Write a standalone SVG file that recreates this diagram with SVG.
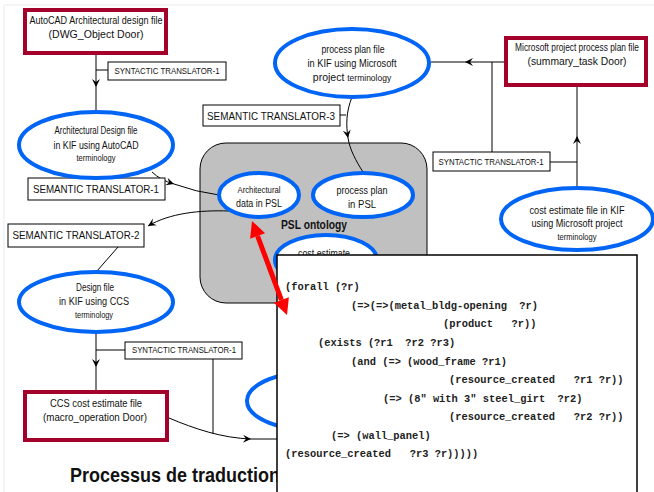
<svg xmlns="http://www.w3.org/2000/svg" width="654" height="492" viewBox="0 0 654 492">
  <defs>
    <marker id="stealth" viewBox="-9 -5 10 10" refX="0" refY="0" markerWidth="10" markerHeight="10" markerUnits="userSpaceOnUse" orient="auto">
      <path d="M-8,-4 L0,0 L-8,4 L-5,0 Z" fill="#000"/>
    </marker>
    <style>
      .frame { fill: none; stroke: #ebebeb; stroke-width: 1; }
      .file { fill: #fff; stroke: #a3002b; stroke-width: 4; }
      .kif { fill: #fff; stroke: #0064f5; stroke-width: 4; }
      .tag { fill: #fff; stroke: #000; stroke-width: 1; }
      .wire { fill: none; stroke: #000; stroke-width: 1; }
      .t { font-family: "Liberation Sans Narrow", "Liberation Sans", Arial, sans-serif; fill: #111; text-anchor: middle; }
      .code { font-family: "Liberation Mono", "Courier New", monospace; font-weight: bold; font-size: 10.4px; fill: #222; white-space: pre; }
      .bold { font-family: "Liberation Sans", Arial, sans-serif; font-weight: bold; fill: #111; }
    </style>
  </defs>

  <rect width="654" height="492" fill="#fff"/>
  <path class="frame" d="M4,492 L4,5 L654,5"/>

  <!-- PSL ontology container -->
  <g id="psl-ontology">
    <rect x="200" y="143" width="227" height="160" rx="26" ry="26" fill="#c0c0c0" stroke="#000" stroke-width="1"/>
    <text class="bold" x="314" y="229" font-size="12.5" text-anchor="middle" textLength="66" lengthAdjust="spacingAndGlyphs">PSL ontology</text>
  </g>

  <!-- connectors -->
  <g id="connectors">
    <!-- AutoCAD file to KIF design file -->
    <path class="wire" d="M96,55 L96,87" marker-end="url(#stealth)"/>
    <path class="wire" d="M96,87 L96,112 M96,70 L108,70"/>
    <!-- KIF design file to PSL architectural data -->
    <path class="wire" d="M152,172 Q160,180 174,184 Q196,192 219,195" marker-mid="url(#stealth)"/>
    <!-- PSL architectural data to CCS design file -->
    <path class="wire" d="M229,211 C200,210 170,213 148,226" marker-end="url(#stealth)"/>
    <path class="wire" d="M118,247 L97,271"/>
    <!-- CCS design file to CCS cost estimate -->
    <path class="wire" d="M96,332 L96,367" marker-end="url(#stealth)"/>
    <path class="wire" d="M96,367 L96,390 M96,350 L125,350"/>
    <!-- CCS cost estimate onward -->
    <path class="wire" d="M169,418 C195,429 222,438 251,439" marker-end="url(#stealth)"/>
    <path class="wire" d="M251,439 L280,439 M213,359 L213,434"/>
    <!-- process plan file to process plan in PSL -->
    <path class="wire" d="M352,97 C346,112 346,125 348,138 C350,150 356,161 363,172" marker-mid="url(#stealth)"/>
    <path class="wire" d="M340,115 L346,115"/>
    <!-- Microsoft project file to process plan file -->
    <path class="wire" d="M504,62 L465,62" marker-end="url(#stealth)"/>
    <path class="wire" d="M465,62 L431,62 M492,62 L492,152 M550,162 L577,162"/>
    <!-- cost estimate KIF to Microsoft project file -->
    <path class="wire" d="M577,188 L577,136" marker-end="url(#stealth)"/>
    <path class="wire" d="M577,136 L577,87"/>
  </g>

  <!-- file nodes -->
  <g id="autocad-file">
    <rect class="file" x="25" y="10" width="141" height="43"/>
    <text class="t" x="96" y="24" font-size="11" textLength="133" lengthAdjust="spacingAndGlyphs">AutoCAD Architectural  design  file</text>
    <text class="t" x="96" y="38" font-size="11" textLength="95" lengthAdjust="spacingAndGlyphs">(DWG_Object     Door)</text>
  </g>

  <g id="msproject-file">
    <rect class="file" x="506" y="38" width="140" height="47"/>
    <text class="t" transform="translate(577,51) scale(0.76,1)" x="0" y="0" font-size="11">Microsoft project process plan file</text>
    <text class="t" x="577" y="65" font-size="11" textLength="99" lengthAdjust="spacingAndGlyphs">(summary_task      Door)</text>
  </g>

  <g id="ccs-file">
    <rect class="file" x="25" y="392" width="142" height="48"/>
    <text class="t" x="96" y="407" font-size="11" textLength="92" lengthAdjust="spacingAndGlyphs">CCS cost estimate  file</text>
    <text class="t" x="95" y="421" font-size="11" textLength="104" lengthAdjust="spacingAndGlyphs">(macro_operation    Door)</text>
  </g>

  <!-- translator labels -->
  <g id="syntactic-1-top">
    <rect class="tag" x="108" y="62" width="118" height="18"/>
    <text class="t" x="167" y="74" font-size="8.5" textLength="105" lengthAdjust="spacingAndGlyphs">SYNTACTIC TRANSLATOR-1</text>
  </g>
  <g id="semantic-1">
    <rect class="tag" x="28" y="178" width="137" height="22"/>
    <text class="t" x="96" y="193" font-size="11" textLength="126" lengthAdjust="spacingAndGlyphs">SEMANTIC  TRANSLATOR-1</text>
  </g>
  <g id="semantic-2">
    <rect class="tag" x="8" y="224" width="136" height="23"/>
    <text class="t" x="76" y="239" font-size="11" textLength="127" lengthAdjust="spacingAndGlyphs">SEMANTIC  TRANSLATOR-2</text>
  </g>
  <g id="syntactic-1-bottom">
    <rect class="tag" x="125" y="342" width="117" height="17"/>
    <text class="t" x="184" y="353" font-size="8.5" textLength="104" lengthAdjust="spacingAndGlyphs">SYNTACTIC TRANSLATOR-1</text>
  </g>
  <g id="semantic-3">
    <rect class="tag" x="203" y="105" width="137" height="21"/>
    <text class="t" x="271" y="120" font-size="11" textLength="128" lengthAdjust="spacingAndGlyphs">SEMANTIC  TRANSLATOR-3</text>
  </g>
  <g id="syntactic-1-right">
    <rect class="tag" x="433" y="152" width="117" height="19"/>
    <text class="t" x="491" y="165" font-size="8.5" textLength="105" lengthAdjust="spacingAndGlyphs">SYNTACTIC TRANSLATOR-1</text>
  </g>

  <!-- KIF ellipses -->
  <g id="kif-autocad">
    <ellipse class="kif" cx="96" cy="145" rx="77" ry="33"/>
    <text class="t" x="96" y="134" font-size="10" textLength="83" lengthAdjust="spacingAndGlyphs">Architectural Design  file</text>
    <text class="t" x="96" y="149" font-size="10" textLength="85" lengthAdjust="spacingAndGlyphs">in KIF using AutoCAD</text>
    <text class="t" x="96" y="161" font-size="9" textLength="39" lengthAdjust="spacingAndGlyphs">terminology</text>
  </g>

  <g id="kif-ccs">
    <ellipse class="kif" cx="96" cy="302" rx="77" ry="30"/>
    <text class="t" x="95" y="291" font-size="10" textLength="38" lengthAdjust="spacingAndGlyphs">Design  file</text>
    <text class="t" x="94" y="305" font-size="10" textLength="70" lengthAdjust="spacingAndGlyphs">in KIF using CCS</text>
    <text class="t" x="94" y="318" font-size="9" textLength="38" lengthAdjust="spacingAndGlyphs">terminology</text>
  </g>

  <g id="kif-msproject-plan">
    <ellipse class="kif" cx="352" cy="63" rx="77" ry="34"/>
    <text class="t" x="353" y="53" font-size="10.5" textLength="63" lengthAdjust="spacingAndGlyphs">process plan file</text>
    <text class="t" x="352" y="67" font-size="10.5" textLength="89" lengthAdjust="spacingAndGlyphs">in KIF using Microsoft</text>
    <text class="t" x="352" y="81" font-size="10.5"><tspan>project </tspan><tspan font-size="8.5">terminology</tspan></text>
  </g>

  <g id="kif-msproject-cost">
    <ellipse class="kif" cx="577" cy="219" rx="76" ry="31"/>
    <text class="t" x="577" y="214" font-size="10.5" textLength="95" lengthAdjust="spacingAndGlyphs">cost estimate   file in KIF</text>
    <text class="t" x="577" y="227" font-size="10.5" textLength="91" lengthAdjust="spacingAndGlyphs">using Microsoft project</text>
    <text class="t" x="577" y="240" font-size="8.5" textLength="39" lengthAdjust="spacingAndGlyphs">terminology</text>
  </g>

  <!-- PSL ellipses -->
  <g id="psl-architectural">
    <ellipse class="kif" cx="259" cy="195" rx="40" ry="22"/>
    <text class="t" x="259" y="193" font-size="9.5" textLength="43" lengthAdjust="spacingAndGlyphs">Architectural</text>
    <text class="t" x="259" y="207" font-size="10.5" textLength="46" lengthAdjust="spacingAndGlyphs">data in PSL</text>
  </g>
  <g id="psl-process-plan">
    <ellipse class="kif" cx="363" cy="195" rx="50" ry="22"/>
    <text class="t" x="362" y="194" font-size="10.5" textLength="51" lengthAdjust="spacingAndGlyphs">process plan</text>
    <text class="t" x="362" y="208" font-size="10.5" textLength="28" lengthAdjust="spacingAndGlyphs">in PSL</text>
  </g>
  <g id="psl-cost-estimate">
    <ellipse class="kif" cx="326" cy="260" rx="51" ry="25"/>
    <text class="t" x="324" y="257" font-size="10.5" textLength="52" lengthAdjust="spacingAndGlyphs">cost estimate</text>
  </g>

  <g id="kif-ccs-cost">
    <ellipse class="kif" cx="323" cy="401" rx="76" ry="31"/>
  </g>

  <text class="bold" x="70" y="482" font-size="21" textLength="210" lengthAdjust="spacingAndGlyphs">Processus de traduction</text>

  <!-- KIF axiom panel -->
  <g id="kif-axiom">
    <rect x="277" y="255" width="360" height="250" fill="#fff" stroke="#000" stroke-width="1.5"/>
    <text class="code" x="285" y="290">(forall (?r)</text>
    <text class="code" x="351" y="309">(=&gt;(=&gt;(metal_bldg-opening  ?r)</text>
    <text class="code" x="443" y="327">(product   ?r))</text>
    <text class="code" x="318" y="346">(exists (?r1  ?r2 ?r3)</text>
    <text class="code" x="351" y="365">(and (=&gt; (wood_frame ?r1)</text>
    <text class="code" x="449" y="383">(resource_created   ?r1 ?r))</text>
    <text class="code" x="383" y="402">(=&gt; (8″ with 3″ steel_girt  ?r2)</text>
    <text class="code" x="449" y="420">(resource_created   ?r2 ?r))</text>
    <text class="code" x="331" y="439">(=&gt; (wall_panel)</text>
    <text class="code" x="285" y="457">(resource_created   ?r3 ?r)))))</text>
  </g>

  <!-- mapping between PSL data and the axiom -->
  <g id="mapping-arrow" fill="#ff0000">
    <path d="M257.6,236 L281.4,300" stroke="#ff0000" stroke-width="5" fill="none"/>
    <polygon points="252,221 265.1,233.2 250.1,238.8"/>
    <polygon points="287,315 288.9,297.2 273.9,302.8"/>
  </g>
</svg>
